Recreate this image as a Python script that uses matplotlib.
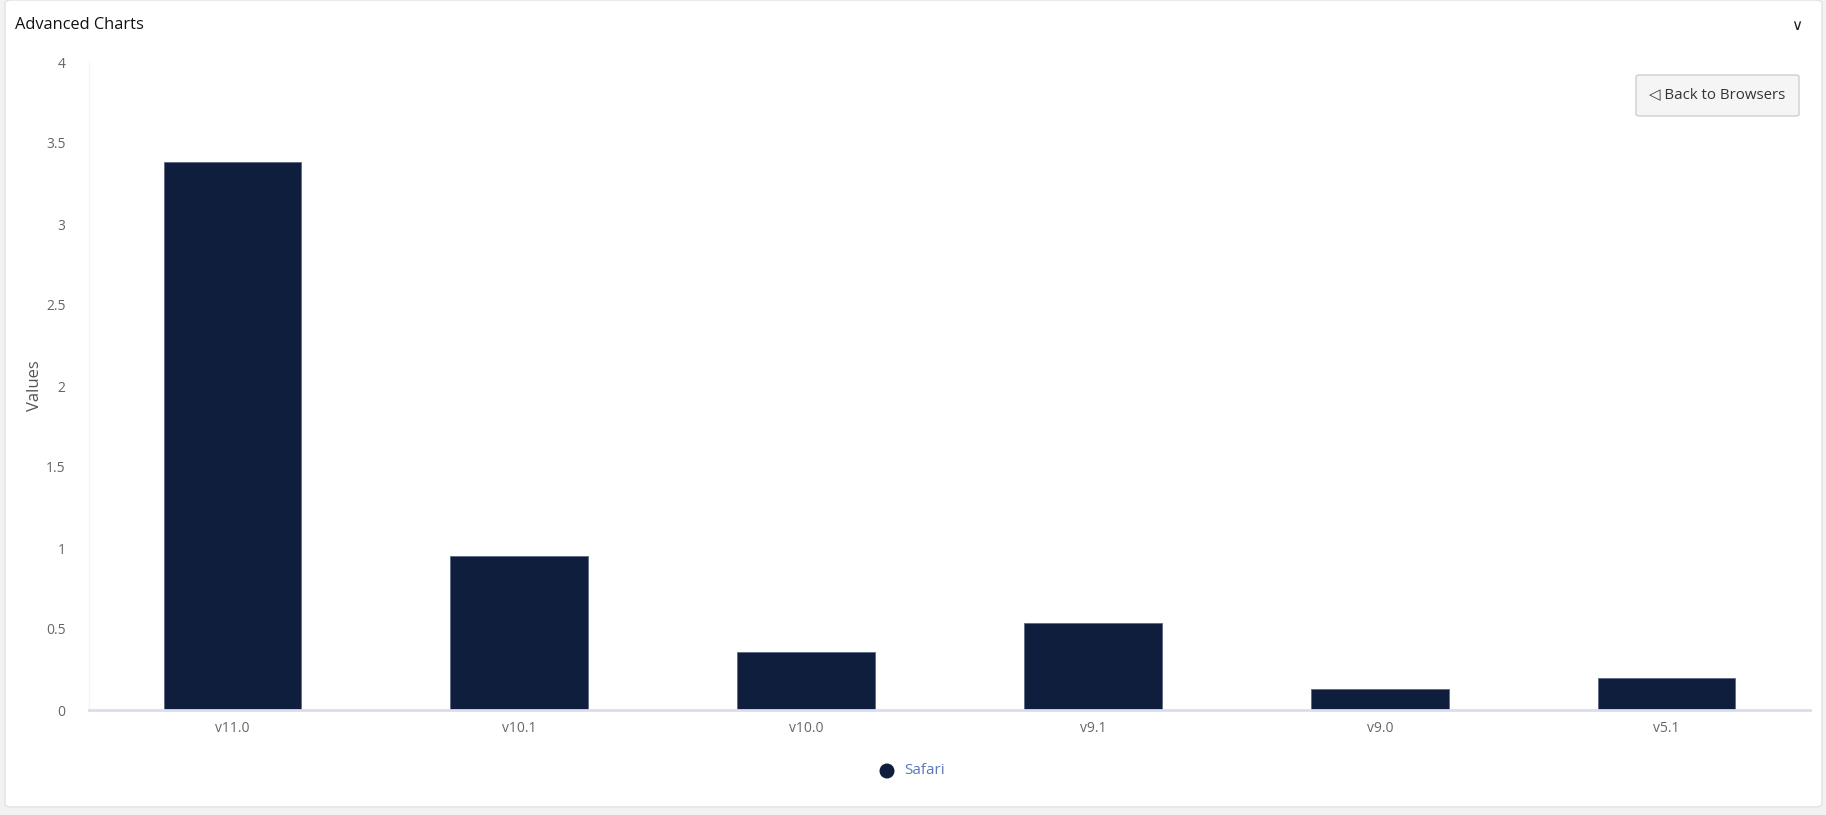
import matplotlib
matplotlib.use('Agg')
import matplotlib.pyplot as plt
from matplotlib.patches import FancyBboxPatch, Ellipse
import numpy as np

plt.rcParams['font.family'] = ['Open Sans', 'DejaVu Sans']

# --- data
versions = ['v11.0', 'v10.1', 'v10.0', 'v9.1', 'v9.0', 'v5.1']
values = [3.38, 0.95, 0.36, 0.54, 0.13, 0.20]
series_name = 'Safari'
yticks = [0, 0.5, 1, 1.5, 2, 2.5, 3, 3.5, 4]
ytick_labels = ['0', '0.5', '1', '1.5', '2', '2.5', '3', '3.5', '4']

W, H = 1826, 815
fig = plt.figure(figsize=(W / 100, H / 100), dpi=100)
fig.patch.set_facecolor('#f2f2f2')

# card background
card = FancyBboxPatch((5 / W, 8 / H), 1817 / W, 807 / H, boxstyle='round,pad=0,rounding_size=0.004',
                      transform=fig.transFigure, facecolor='white', edgecolor='#e2e2e2', lw=1, zorder=-5)
fig.patches.append(card)

fig.text(15 / W, 1 - 25 / H, 'Advanced Charts', fontsize=11.8, color='#111111', va='center', ha='left')
fig.text(1797 / W, 1 - 25 / H, '\u2228', fontsize=11, color='#222222', va='center', ha='center',
         family=['DejaVu Sans'])

# back button
btn = FancyBboxPatch((1636 / W, 1 - 116 / H), 163 / W, 41 / H, boxstyle='round,pad=0,rounding_size=0.002',
                     transform=fig.transFigure, facecolor='#f5f5f5', edgecolor='#cfcfcf', lw=1, zorder=2)
fig.patches.append(btn)
fig.text(1717 / W, 1 - 95 / H, '\u25c1 Back to Browsers', fontsize=10.8, color='#333333',
         va='center', ha='center', zorder=3)

ax = fig.add_axes([89 / W, 1 - 710 / H, (1810 - 89) / W, (710 - 62) / H])
ax.set_zorder(1)
ax.patch.set_alpha(0)
x = np.arange(len(versions))
ax.bar(x, values, width=0.48, color='#0f1e3d', edgecolor='#5d6a82', linewidth=0.6, zorder=2)

ax.set_xlim(-0.5, len(versions) - 0.5)
ax.set_ylim(0, 4)
ax.set_xticks(x)
ax.set_xticklabels(versions)
ax.set_yticks(yticks)
ax.set_yticklabels(ytick_labels)
ax.tick_params(axis='both', length=0, labelsize=10, labelcolor='#666666')
ax.tick_params(axis='y', pad=17)
ax.tick_params(axis='x', pad=8)
for s in ['top', 'right']:
    ax.spines[s].set_visible(False)
ax.spines['left'].set_color('#e6fbff')
ax.spines['left'].set_linewidth(1)
ax.spines['bottom'].set_color('#d9dded')
ax.spines['bottom'].set_linewidth(2)
ax.set_ylabel('Values', fontsize=12, color='#555555')
ax.yaxis.set_label_coords(-(89 - 43) / (1810 - 89), 0.5)

# legend
r = 7.5
fig.patches.append(Ellipse((887 / W, 1 - 771 / H), 2 * r / W, 2 * r / H, transform=fig.transFigure,
                           facecolor='#0f1e3d', edgecolor='none', zorder=3))
fig.text(904 / W, 1 - 771 / H, series_name, fontsize=11, color='#5a78bd', va='center', ha='left')

fig.savefig('out.png', dpi=100, facecolor=fig.get_facecolor())
